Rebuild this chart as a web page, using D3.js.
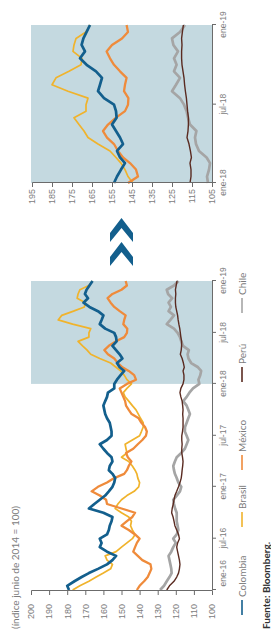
<!DOCTYPE html>
<html>
<head>
<meta charset="utf-8">
<script src="https://cdn.jsdelivr.net/npm/d3@7"></script>
<style>
body { margin: 0; background: #fff; }
svg { display: block; font-family: Lato, "Open Sans", sans-serif; }
.axis path, .axis line { stroke: #6b6b6b; stroke-width: 1; }
.axis text { fill: #7c7c7c; }
</style>
</head>
<body>
<script>
// half-monthly observations, ene-16 to ene-19
var dates = [
  "2016-01-01","2016-01-16","2016-02-01","2016-02-16","2016-03-01","2016-03-16","2016-04-01","2016-04-16","2016-05-01","2016-05-16","2016-06-01","2016-06-16",
  "2016-07-01","2016-07-16","2016-08-01","2016-08-16","2016-09-01","2016-09-16","2016-10-01","2016-10-16","2016-11-01","2016-11-16","2016-12-01","2016-12-16",
  "2017-01-01","2017-01-16","2017-02-01","2017-02-16","2017-03-01","2017-03-16","2017-04-01","2017-04-16","2017-05-01","2017-05-16","2017-06-01","2017-06-16",
  "2017-07-01","2017-07-16","2017-08-01","2017-08-16","2017-09-01","2017-09-16","2017-10-01","2017-10-16","2017-11-01","2017-11-16","2017-12-01","2017-12-16",
  "2018-01-01","2018-01-16","2018-02-01","2018-02-16","2018-03-01","2018-03-16","2018-04-01","2018-04-16","2018-05-01","2018-05-16","2018-06-01","2018-06-16",
  "2018-07-01","2018-07-16","2018-08-01","2018-08-16","2018-09-01","2018-09-16","2018-10-01","2018-10-16","2018-11-01","2018-11-16","2018-12-01","2018-12-16",
  "2019-01-01"
];

var colombia = [
  179,180,176,172,168,163,158,155,153,158,162,161,
  162,158,157,156.5,155.5,155,160,168,165,162,159,157,
  155,154,153.5,155,157,156.5,155,155.5,158,160,162,158,
  155.5,155.5,156,156.5,158,159,159.5,160,159,158,157.5,154,
  154,152.5,150.5,148.5,151,152.5,149.5,151,153,155,152.7,153,
  154,159,162,161,160,163,167.7,171,168.5,170.2,169.3,167.7,
  166
];
var brasil = [
  177,173,168,164,160,156,155,158,159,153,150,147,
  144,142.5,144,145,144.5,146,150,153.5,152,150,147,143,
  140.5,140,141,141.5,142.5,144,146,150,147,147.5,148,144,
  140,139,138,138,139.5,140.7,142,144,146,148,149,147,
  144.5,147,148.5,150.5,153,156,162,167,169,171.5,174,168,
  168,167,177,185,183,176.5,170.5,170,174.5,174,173,168,
  166
];
var mexico = [
  141.5,140,137.5,135.5,134.5,133.5,134,138.5,141,143.5,142.5,141.5,
  140,142.5,146,150,147,144,142.5,150,158,158.5,162,166.5,
  163,158,154,148.5,147,146,144.5,146.5,147.5,143.5,141,138.5,
  136.5,136,137,139,140.5,144.4,146,147.5,148,149,150,151,
  147,142,143,146,149.5,152,154,157.5,159.5,157,153,148.5,
  147,146.8,149,148.5,147.7,151,154,156,157.7,155,150,147,
  147.7
];
var peru = [
  125,123.5,121,119.5,118.5,118,117.7,118,118.5,119,119.5,119,
  118,118.5,119.5,120.5,121,121.5,122.3,122,121.4,121,120.5,119.5,
  118.5,117.7,117,116.7,116.5,116.2,116,116.3,116.7,116.7,116.5,116.7,
  116.7,116.3,116,116,116,116.2,116,116.2,116.5,117.2,117.7,117.2,
  116,115.5,115.5,116,115.3,115.8,116.5,117.5,117,116.8,116.8,117.2,
  117.5,117.8,118.3,118.7,119,119.5,120,120.2,120.2,120,120.2,119.8,
  119.3
];
var chile = [
  128.7,126.5,125,123.5,122.3,122.5,123,123.5,124,122.5,121.4,120,
  121.4,119.5,118.6,119,119.5,119.5,119.5,120.4,121,121.4,119.5,117.7,
  117,118.6,119.5,120.5,121,121.4,120.5,119.5,117,115,114,113.1,
  114,115,114.9,114,113.1,112.2,113.1,114,115.9,114,112.5,110.5,
  107,107.5,106.5,106,107.7,111.5,113,113.5,112.8,116,117,117.7,
  119,121,125,123,121,124,122.7,124,122,124.3,125,121,
  118.5
];

var seriesNames = ["Colombia", "Brasil", "México", "Perú", "Chile"];
var seriesValues = [colombia, brasil, mexico, peru, chile];

var mainDateTicks = ["2016-01-01","2016-07-01","2017-01-01","2017-07-01","2018-01-01","2018-07-01","2019-01-01"];
var mainDateLabels = ["ene-16","jul-16","ene-17","jul-17","ene-18","jul-18","ene-19"];
var mainValueTicks = [200,190,180,170,160,150,140,130,120,110,100];
var insetDateTicks = ["2018-01-01","2018-07-01","2019-01-01"];
var insetDateLabels = ["ene-18","jul-18","ene-19"];
var insetValueTicks = [195,185,175,165,155,145,135,125,115,105];

// styling
var colors = ["#135f8d", "#f0b32c", "#ef8b3b", "#5a2b21", "#a5a5a5"];
var widths = [2.7, 1.7, 2.3, 1.4, 2.7];
var drawOrder = [4, 3, 1, 2, 0];
var legendX = [14, 102, 159, 247, 316];
var shade = "#c4d9e0";

var parse = d3.timeParse("%Y-%m-%d");
var dateObjs = dates.map(parse);

// the chart is laid out landscape (629 x 271) and turned a quarter to the left
var svg = d3.select("body").append("svg")
    .attr("width", 271)
    .attr("height", 629);
var g = svg.append("g")
    .attr("transform", "translate(0,629) rotate(-90)");

/*
 * MAIN CHART
 */
var xMain = d3.scaleTime()
    .domain([parse("2016-01-01"), parse("2019-01-01")])
    .range([39, 348]);
var yMain = d3.scaleLinear()
    .domain([100, 200])
    .range([212, 31]);

g.append("rect")
    .attr("x", xMain(parse("2018-01-01")))
    .attr("y", 31)
    .attr("width", xMain(parse("2019-01-01")) - xMain(parse("2018-01-01")))
    .attr("height", 212 - 31)
    .style("fill", shade);

var mainLine = d3.line()
    .x(function(d){ return xMain(d[0]); })
    .y(function(d){ return yMain(d[1]); });

var mainLines = g.append("g");
drawOrder.forEach(function(i){
    mainLines.append("path")
        .datum(dateObjs.map(function(d, k){ return [d, seriesValues[i][k]]; }))
        .attr("d", mainLine)
        .style("fill", "none")
        .style("stroke", colors[i])
        .style("stroke-width", widths[i])
        .style("stroke-linejoin", "round");
});

var yAxisMain = g.append("g")
    .attr("class", "axis")
    .attr("transform", "translate(38,0)")
    .call(d3.axisLeft(yMain).tickValues(mainValueTicks).tickSize(4).tickPadding(9));
yAxisMain.selectAll("text").style("font-size", "9px");

var xAxisMain = g.append("g")
    .attr("class", "axis")
    .attr("transform", "translate(0,212)")
    .call(d3.axisBottom(xMain)
        .tickValues(mainDateTicks.map(parse))
        .tickFormat(function(d, i){ return mainDateLabels[i]; })
        .tickSize(4).tickPadding(4));
xAxisMain.selectAll("text").style("font-size", "8.5px");
// first label sits just inside the axis corner
xAxisMain.selectAll("text").filter(function(d, i){ return i === 0; })
    .attr("text-anchor", "start")
    .attr("x", 3);

g.append("text")
    .attr("x", 0)
    .attr("y", 19)
    .text("(índice junio de 2014 = 100)")
    .style("font-size", "10px")
    .style("fill", "#7c7c7c");

/*
 * ARROWS
 */
[387, 363].forEach(function(x0){
    g.append("path")
        .attr("d", "M" + x0 + ",110 L" + (x0 + 9) + ",110 L" + (x0 + 24) + ",121.5 L" +
            (x0 + 9) + ",133 L" + x0 + ",133 L" + (x0 + 14) + ",121.5 Z")
        .style("fill", "#135f8d");
});

/*
 * INSET (2018)
 */
var xInset = d3.scaleTime()
    .domain([parse("2018-01-01"), parse("2019-01-01")])
    .range([446, 604]);
var yInset = d3.scaleLinear()
    .domain([105, 195])
    .range([212, 32]);

g.append("rect")
    .attr("x", 446)
    .attr("y", 31)
    .attr("width", 604 - 446)
    .attr("height", 212 - 31)
    .style("fill", shade);

var insetLine = d3.line()
    .x(function(d){ return xInset(d[0]); })
    .y(function(d){ return yInset(d[1]); });

var start = dates.indexOf("2018-01-01");
var insetLines = g.append("g");
drawOrder.forEach(function(i){
    insetLines.append("path")
        .datum(dateObjs.slice(start).map(function(d, k){ return [d, seriesValues[i][start + k]]; }))
        .attr("d", insetLine)
        .style("fill", "none")
        .style("stroke", colors[i])
        .style("stroke-width", widths[i])
        .style("stroke-linejoin", "round");
});

var yAxisInset = g.append("g")
    .attr("class", "axis")
    .attr("transform", "translate(446,0)")
    .call(d3.axisLeft(yInset).tickValues(insetValueTicks).tickSize(4).tickPadding(2));
yAxisInset.selectAll("text").style("font-size", "9px");

var xAxisInset = g.append("g")
    .attr("class", "axis")
    .attr("transform", "translate(0,212)")
    .call(d3.axisBottom(xInset)
        .tickValues(insetDateTicks.map(parse))
        .tickFormat(function(d, i){ return insetDateLabels[i]; })
        .tickSize(4).tickPadding(4));
xAxisInset.selectAll("text").style("font-size", "8.5px");

/*
 * LEGEND
 */
var legend = g.append("g").attr("transform", "translate(0,242)");
seriesNames.forEach(function(name, i){
    var item = legend.append("g").attr("transform", "translate(" + legendX[i] + ",0)");
    item.append("line")
        .attr("x1", 0).attr("x2", 15)
        .attr("y1", 0).attr("y2", 0)
        .style("stroke", colors[i])
        .style("stroke-width", 1.6);
    item.append("text")
        .attr("x", 18)
        .attr("y", 3.5)
        .text(name)
        .style("font-size", "10px")
        .style("fill", "#7c7c7c");
});

g.append("text")
    .attr("x", 0)
    .attr("y", 270)
    .text("Fuente: Bloomberg.")
    .style("font-size", "10px")
    .style("font-weight", "bold")
    .style("fill", "#333");
</script>
</body>
</html>
